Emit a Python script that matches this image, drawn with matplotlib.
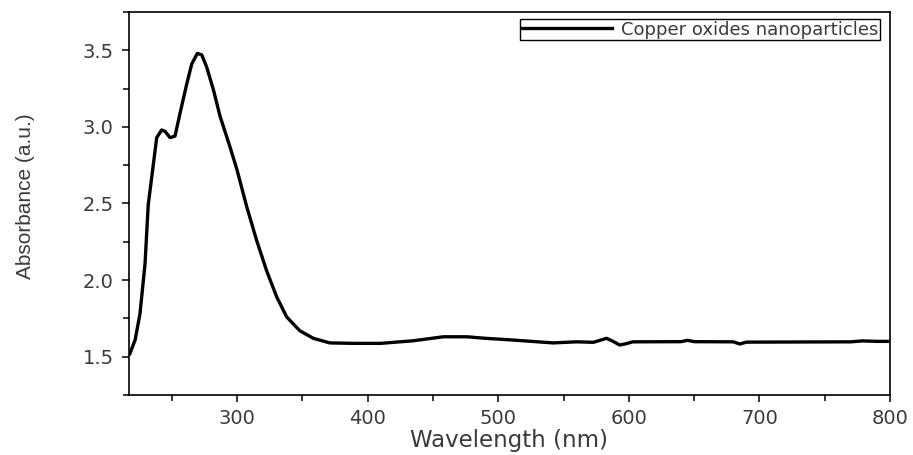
import matplotlib.pyplot as plt
import numpy as np
from matplotlib.ticker import MultipleLocator

# ================ DATA ============================================
wavelength = [218, 222, 225.7, 229.6, 232, 236, 238.5, 242.3, 245, 248.7,
              252.5, 256.4, 261.5, 265.3, 269.6, 273, 276.8, 282, 287, 294.6,
              300, 307.4, 315, 322.7, 330.4, 338, 348, 358.4, 371, 389,
              410, 435, 458, 476, 490, 509, 542, 560, 573, 583,
              588, 593, 598, 603, 640, 645, 650, 680, 685, 690,
              770, 779, 790, 800]
absorbance = [1.52, 1.61, 1.78, 2.11, 2.49, 2.76, 2.93, 2.98, 2.97, 2.93,
              2.94, 3.09, 3.28, 3.41, 3.48, 3.47, 3.39, 3.24, 3.07, 2.87,
              2.72, 2.48, 2.26, 2.06, 1.89, 1.76, 1.67, 1.62, 1.59, 1.587,
              1.587, 1.604, 1.63, 1.63, 1.62, 1.61, 1.59, 1.597, 1.594, 1.62,
              1.60, 1.576, 1.585, 1.597, 1.598, 1.607, 1.598, 1.597, 1.583, 1.595,
              1.597, 1.603, 1.60, 1.60]
label = 'Copper oxides nanoparticles'

plt.rcParams['font.family'] = ['DejaVu Sans']
txt = '#3a3a3a'

fig = plt.figure(figsize=(9.13, 4.55), dpi=100)
ax = fig.add_axes([0.1413, 0.1319, 0.8335, 0.8417])

ax.plot(wavelength, absorbance, color='black', lw=2.4, label=label)

ax.set_xlim(217.3, 800)
ax.set_ylim(1.25, 3.75)
ax.xaxis.set_major_locator(MultipleLocator(100))
ax.xaxis.set_minor_locator(MultipleLocator(50))
ax.yaxis.set_major_locator(MultipleLocator(0.5))
ax.yaxis.set_minor_locator(MultipleLocator(0.25))
ax.tick_params(which='both', direction='out', colors='black', labelcolor=txt,
               labelsize=14, width=1.1)
ax.tick_params(which='major', length=5)
ax.tick_params(which='minor', length=4)
ax.tick_params(axis='x', pad=5)
ax.tick_params(axis='y', pad=6)
for s in ax.spines.values():
    s.set_linewidth(1.2)

ax.set_xlabel('Wavelength (nm)', fontsize=16.5, color=txt, labelpad=1)
ax.set_ylabel('Absorbance (a.u.)', fontsize=15, color=txt,
              family='Liberation Sans')
ax.yaxis.set_label_coords(-0.124, 0.52)

leg = ax.legend(loc='upper right', bbox_to_anchor=(0.987, 0.9825),
                borderaxespad=0, fontsize=13, handlelength=5.0,
                fancybox=False, edgecolor='black', framealpha=1,
                borderpad=0.1, handletextpad=0.5)
leg.get_frame().set_linewidth(1.0)
for t in leg.get_texts():
    t.set_color(txt)

fig.savefig('out.png', dpi=100)
